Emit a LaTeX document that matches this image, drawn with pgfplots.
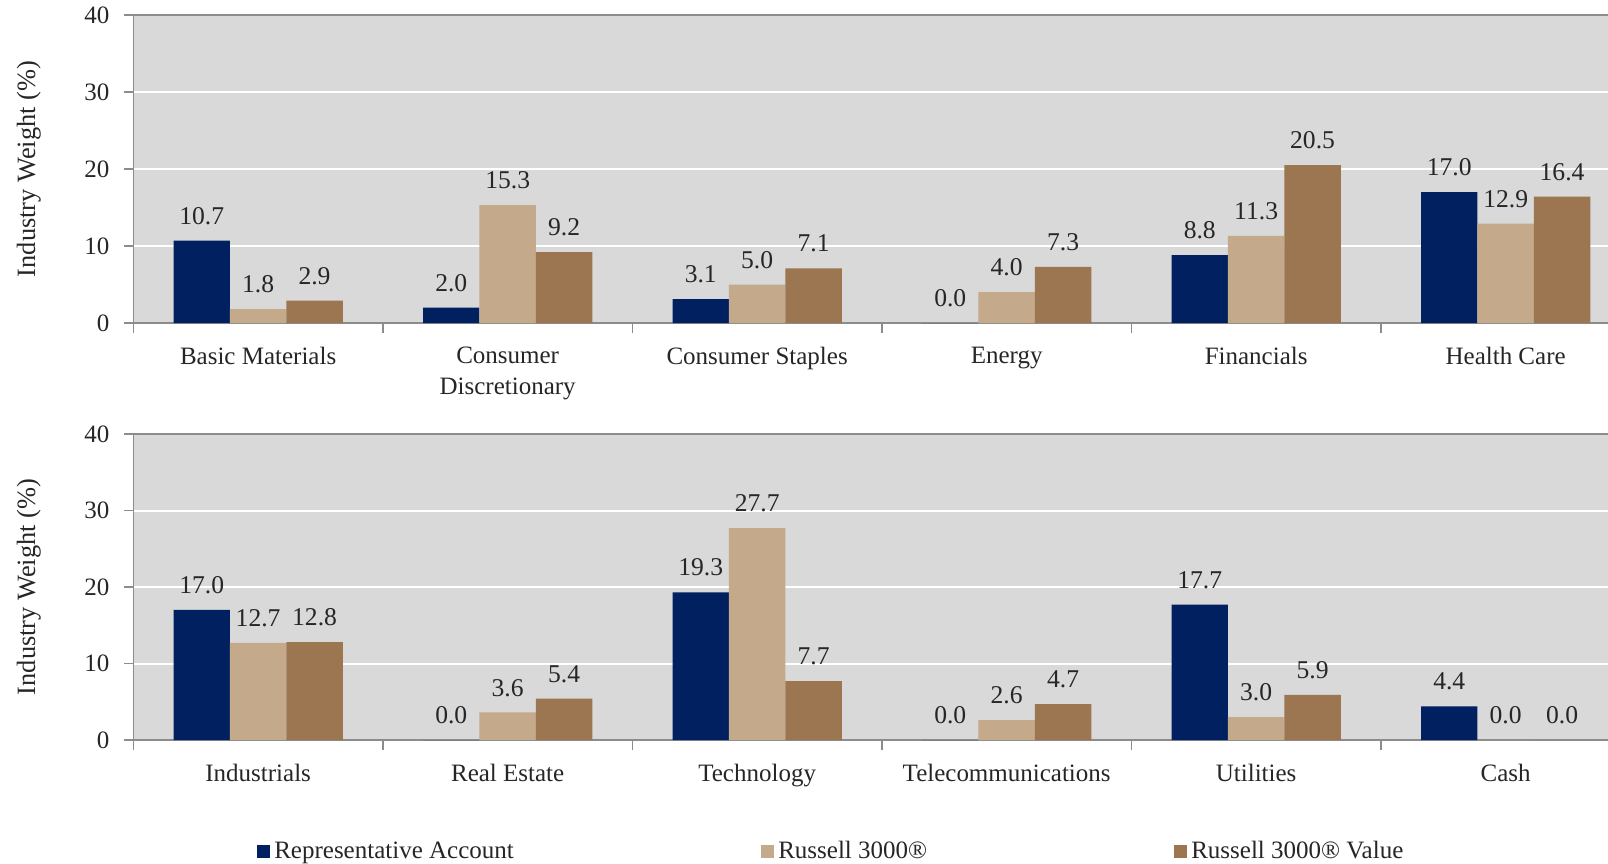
\documentclass[border=0pt]{standalone}
\usepackage{fontspec}
\setmainfont{Liberation Serif}
\usepackage{pgfplots}
\pgfplotsset{compat=1.18}

\definecolor{acct}{HTML}{002060}
\definecolor{rus}{HTML}{C4A98A}
\definecolor{rusv}{HTML}{9B7650}
\definecolor{panel}{HTML}{D9D9D9}
\definecolor{axisgray}{HTML}{8C8C8C}
\definecolor{labeltext}{HTML}{262626}

\pgfplotsset{
  /pgf/number format/assume math mode=true,
  sq legend/.style={legend image code/.code={\fill[##1] (0pt,-3.3pt) rectangle (6.5pt,3.3pt);}},
  industry/.style={
    scale only axis, width=748.5pt, height=154pt,
    font=\fontsize{12.5pt}{14pt}\selectfont,
    ybar=0pt, bar width=28.2pt,
    xmin=-0.5, xmax=5.5, ymin=0, ymax=40,
    enlargelimits=false, clip=false,
    xtick={0,...,5},
    minor xtick={-0.5,0.5,...,5.5},
    ytick={0,10,20,30},
    extra y ticks={40},
    extra y tick style={grid style={draw=axisgray, line width=0.8pt}},
    axis x line*=bottom, axis y line*=left,
    axis line style={draw=axisgray, line width=0.8pt},
    axis background/.style={fill=panel},
    ymajorgrids, grid style={draw=white, line width=1pt},
    tick align=outside,
    major tick length=4.5pt, minor tick length=5pt,
    major x tick style={draw=none},
    minor x tick style={draw=axisgray, line width=0.8pt},
    ytick style={draw=axisgray, line width=0.8pt},
    tick label style={text=labeltext},
    xticklabel style={align=center, yshift=-4pt, font=\fontsize{12.5pt}{15.5pt}\selectfont},
    yticklabel style={xshift=-4pt},
    ylabel={Industry Weight (\%)},
    ylabel style={at={(axis description cs:-0.0699,0.5)}, anchor=center, text=labeltext,
      font=\fontsize{13.2pt}{15pt}\selectfont},
    nodes near coords={\pgfmathprintnumber[fixed,fixed zerofill,precision=1]{\pgfplotspointmeta}},
    nodes near coords style={text=labeltext, font=\fontsize{12.8pt}{14pt}\selectfont, yshift=4.5pt},
  },
}

\begin{document}
\begin{tikzpicture}
\useasboundingbox (0pt,0pt) rectangle (804pt,-431.5pt);

% upper panel
\begin{axis}[industry, at={(66.7pt,-7.5pt)}, anchor=north west,
  xticklabels={Basic Materials, {Consumer\\Discretionary}, Consumer Staples, Energy, Financials, Health Care}]
\addplot[fill=acct, draw=none] coordinates {(0,10.7) (1,2.0) (2,3.1) (3,0.0) (4,8.8) (5,17.0)};
\addplot[fill=rus, draw=none] coordinates {(0,1.8) (1,15.3) (2,5.0) (3,4.0) (4,11.3) (5,12.9)};
\addplot[fill=rusv, draw=none] coordinates {(0,2.9) (1,9.2) (2,7.1) (3,7.3) (4,20.5) (5,16.4)};
\end{axis}

% lower panel with legend
\begin{axis}[industry, at={(66.7pt,-217pt)}, anchor=north west, height=153pt,
  xticklabels={Industrials, Real Estate, Technology, Telecommunications, Utilities, Cash},
  legend columns=3,
  legend style={at={(axis description cs:0.0785,-0.365)}, anchor=west, draw=none, fill=none,
    font=\fontsize{12.5pt}{14pt}\selectfont, text=labeltext,
    /tikz/every even column/.append style={column sep=2pt}}]
\addplot[fill=acct, draw=none, sq legend] coordinates {(0,17.0) (1,0.0) (2,19.3) (3,0.0) (4,17.7) (5,4.4)};
\addlegendentry{\makebox[239.5pt][l]{Representative Account}}
\addplot[fill=rus, draw=none, sq legend] coordinates {(0,12.7) (1,3.6) (2,27.7) (3,2.6) (4,3.0) (5,0.0)};
\addlegendentry{\makebox[194pt][l]{Russell 3000®}}
\addplot[fill=rusv, draw=none, sq legend] coordinates {(0,12.8) (1,5.4) (2,7.7) (3,4.7) (4,5.9) (5,0.0)};
\addlegendentry{Russell 3000® Value}
\end{axis}
\end{tikzpicture}
\end{document}
